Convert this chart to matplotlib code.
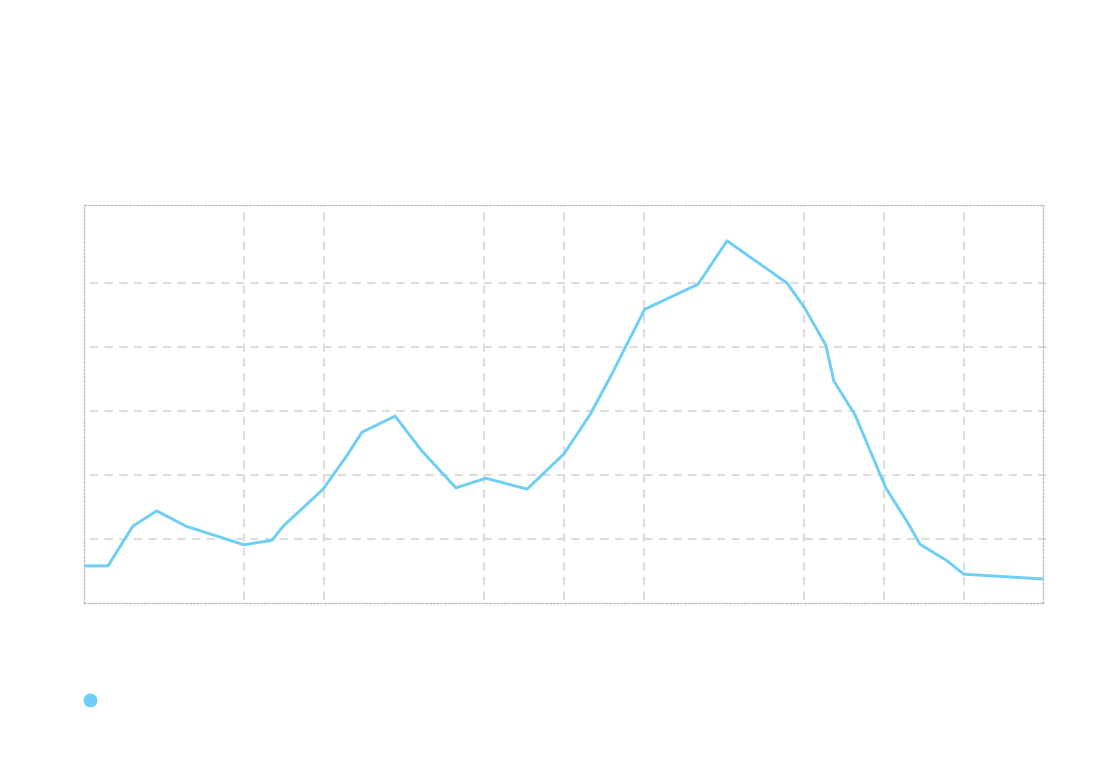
import matplotlib
matplotlib.use("Agg")
import matplotlib.pyplot as plt

# series (x in grid units, y in grid units)
x_vals = [0.025, 0.3, 0.61, 0.91, 1.275, 2.0, 2.35, 2.49, 2.99, 3.29, 3.475, 3.89,
          4.225, 4.65, 5.025, 5.54, 6.0, 6.325, 6.575, 7.01, 7.675, 8.04, 8.79,
          9.01, 9.275, 9.375, 9.64, 10.025, 10.325, 10.45, 10.79, 11.0, 11.99]
y_vals = [0.58, 0.58, 1.20, 1.44, 1.20, 0.91, 0.98, 1.20, 1.78, 2.31, 2.67, 2.92,
          2.375, 1.80, 1.95, 1.78, 2.33, 2.94, 3.52, 4.59, 4.98, 5.66, 5.0,
          4.61, 4.03, 3.47, 2.94, 1.80, 1.20, 0.92, 0.66, 0.45, 0.375]
x_grid = [2, 3, 5, 6, 7, 9, 10, 11]
y_grid = [1, 2, 3, 4, 5]

line_color = "#6dcff6"
grid_color = "#dddddd"

fig = plt.figure(figsize=(10.96, 7.6), dpi=100)
ax = fig.add_axes([84 / 1096, 157 / 760, 959 / 1096, 398 / 760])
ax.set_xlim(0, 11.99)
ax.set_ylim(0, 6.22)

# vertical grid, dashes start right at the top edge
ax.vlines(x_grid, 0.05, 6.22, colors=grid_color, lw=1.5,
          linestyles=(0, (4, 3)), zorder=1)
# horizontal grid pokes a little past the right border
ax.hlines(y_grid, 0.075, 12.08, colors=grid_color, lw=1.5,
          linestyles=(0, (4, 3)), zorder=1, clip_on=False)

ax.plot(x_vals, y_vals, color=line_color, lw=2.1, zorder=3)

ax.set_xticks([])
ax.set_yticks([])
for s in ax.spines.values():
    s.set_color("#bbbbbb")
    s.set_linewidth(0.9)
    s.set_linestyle((0, (1.5, 1.5)))

# legend marker (no label text in the reference)
fig.lines.append(plt.Line2D([90 / 1096], [60 / 760], marker="o", markersize=9,
                            color=line_color, lw=0, transform=fig.transFigure))

fig.savefig("out.png", dpi=100)
